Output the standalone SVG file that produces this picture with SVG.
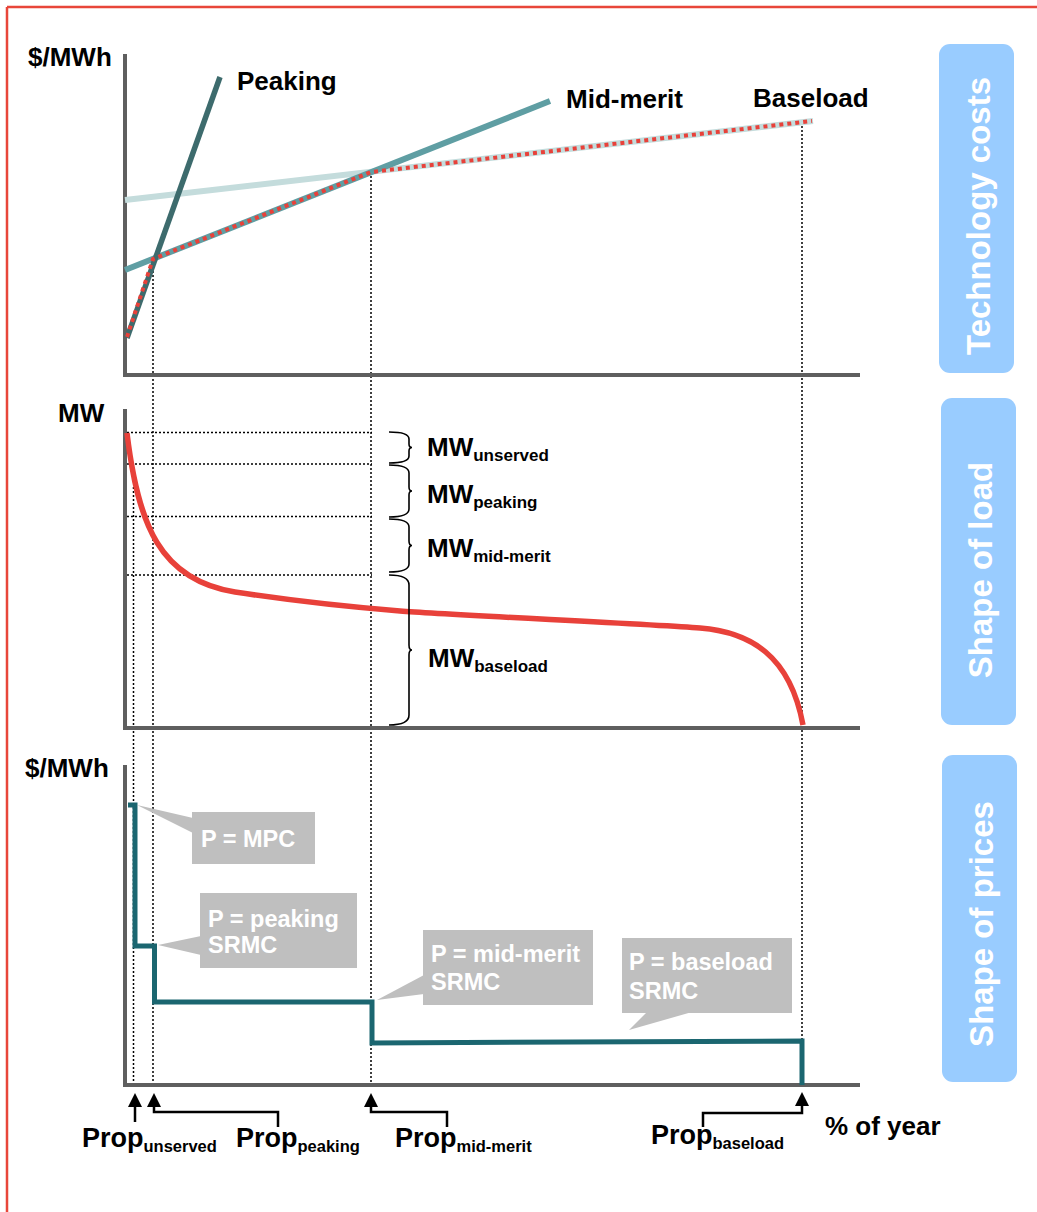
<svg xmlns="http://www.w3.org/2000/svg" width="1037" height="1212" viewBox="0 0 1037 1212">
<style>
.t{font-family:"Liberation Sans",Arial,Helvetica,sans-serif;font-weight:bold;font-size:26px;fill:#000}
.p{font-size:27px}
.s16{font-size:16.5px}
.s17{font-size:17px}
.call{font-family:"Liberation Sans",Arial,Helvetica,sans-serif;font-weight:bold;font-size:23.5px;fill:#fff}
.side{font-family:"Liberation Sans",Arial,Helvetica,sans-serif;font-weight:bold;font-size:33px;fill:#fff}
.axis{fill:none;stroke:#5f5f5f;stroke-width:4}
.dot{fill:none;stroke:#000;stroke-width:1.5;stroke-dasharray:2,2}
.brace{fill:none;stroke:#000;stroke-width:1.6}
.conn{fill:none;stroke:#000;stroke-width:2.5}
.bubble{fill:#bfbfbf}
.sidebox{fill:#99ccff}
</style>
<defs>
<marker id="ah" markerUnits="userSpaceOnUse" markerWidth="14" markerHeight="14" viewBox="0 0 14 14" refX="7" refY="7" orient="auto">
<path d="M0,0 L14,7 L0,14 z" fill="#000"/>
</marker>
</defs>

<g id="frame">
<line x1="7" y1="7" x2="1037" y2="7" stroke="#e8463a" stroke-width="2.5"/>
<line x1="7" y1="7" x2="7" y2="1212" stroke="#e8463a" stroke-width="2.5"/>
</g>

<g id="guides">
<path class="dot" d="M153,259 V1085"/>
<path class="dot" d="M371,172 V1085"/>
<path class="dot" d="M802,122 V1041"/>
<path class="dot" d="M133.5,487 V1085"/>
<path class="dot" d="M127,432.5 H372"/>
<path class="dot" d="M127,464 H372"/>
<path class="dot" d="M127,516.5 H372"/>
<path class="dot" d="M127,575 H372"/>
</g>

<g id="chart-technology-costs">
<path class="axis" d="M125,54 V375 H860"/>
<line x1="125" y1="200" x2="813" y2="121" stroke="#c4dcdc" stroke-width="6"/>
<line x1="125" y1="270" x2="550" y2="101" stroke="#5f9ea3" stroke-width="6"/>
<line x1="127" y1="338" x2="220" y2="77" stroke="#3d6b6d" stroke-width="5.5"/>
<path d="M127,337 L153,259 L371,172 L812,121" fill="none" stroke="#e8413a" stroke-width="4" stroke-dasharray="4,4"/>
<text class="t" x="28" y="66">$/MWh</text>
<text class="t" x="237" y="90">Peaking</text>
<text class="t" x="566" y="108">Mid-merit</text>
<text class="t" x="753" y="107">Baseload</text>
</g>

<g id="chart-shape-of-load">
<path class="axis" d="M125,409 V728 H860"/>
<path d="M127,433 C138,525 160,580 235,592 C300,602 350,607 400,611 C450,615 650,624 700,628 C750,632 790,655 803,725" fill="none" stroke="#e8413a" stroke-width="5.5"/>
<text class="t" x="58" y="422">MW</text>
</g>

<g id="braces">
<path class="brace" d="M389,432 Q409,432 409,439 L409,444 Q409,447.5 412,447.5 Q409,447.5 409,451 L409,456 Q409,463 389,463"/>
<path class="brace" d="M389,465 Q409,465 409,473 L409,487 Q409,491 412,491 Q409,491 409,495 L409,509 Q409,517 389,517"/>
<path class="brace" d="M389,519 Q409,519 409,527 L409,541 Q409,545.5 412,545.5 Q409,545.5 409,550 L409,564 Q409,572 389,572"/>
<path class="brace" d="M389,575 Q409,575 409,585 L409,645 Q409,650 412,650 Q409,650 409,655 L409,715 Q409,725 389,725"/>
</g>

<g id="mw-labels">
<text class="t" x="427" y="456">MW<tspan class="s17" dy="5">unserved</tspan></text>
<text class="t" x="427" y="503">MW<tspan class="s17" dy="5">peaking</tspan></text>
<text class="t" x="427" y="557">MW<tspan class="s17" dy="5">mid-merit</tspan></text>
<text class="t" x="428" y="667">MW<tspan class="s17" dy="5">baseload</tspan></text>
</g>

<g id="chart-shape-of-prices">
<path class="axis" d="M125,765 V1085 H860"/>
<path d="M128,805 H135 V946 H154.5 V1002 H372 V1043 L802,1041 V1085" fill="none" stroke="#1b6670" stroke-width="5" stroke-linejoin="miter"/>
<text class="t" x="25" y="777">$/MWh</text>
</g>

<g id="callout-mpc">
<polygon class="bubble" points="137,805 193,818 193,833"/>
<rect class="bubble" x="192" y="812" width="123" height="52"/>
<text class="call" x="201" y="847">P = MPC</text>
</g>

<g id="callout-peaking">
<polygon class="bubble" points="158,945 201,936 201,955"/>
<rect class="bubble" x="200" y="893" width="157" height="75"/>
<text class="call" x="208" y="927">P = peaking</text>
<text class="call" x="208" y="953">SRMC</text>
</g>

<g id="callout-midmerit">
<polygon class="bubble" points="377,1000 424,975 424,994"/>
<rect class="bubble" x="423" y="930" width="170" height="75"/>
<text class="call" x="431" y="962">P = mid-merit</text>
<text class="call" x="431" y="990">SRMC</text>
</g>

<g id="callout-baseload">
<polygon class="bubble" points="647,1012 692,1012 629,1030"/>
<rect class="bubble" x="622" y="938" width="170" height="75"/>
<text class="call" x="629" y="970">P = baseload</text>
<text class="call" x="629" y="999">SRMC</text>
</g>

<g id="connectors">
<path class="conn" d="M135,1122 V1100" marker-end="url(#ah)"/>
<path class="conn" d="M278,1127 V1112 H154 V1100" marker-end="url(#ah)"/>
<path class="conn" d="M447,1127 V1112 H371 V1100" marker-end="url(#ah)"/>
<path class="conn" d="M703,1127 V1113 H802 V1099" marker-end="url(#ah)"/>
</g>

<g id="prop-labels">
<text class="t p" x="82" y="1147">Prop<tspan class="s16" dy="5">unserved</tspan></text>
<text class="t p" x="236" y="1147">Prop<tspan class="s16" dy="5">peaking</tspan></text>
<text class="t p" x="395" y="1147">Prop<tspan class="s16" dy="5">mid-merit</tspan></text>
<text class="t p" x="651" y="1144">Prop<tspan class="s16" dy="5">baseload</tspan></text>
<text class="t" x="825" y="1135">% of year</text>
</g>

<g id="side-technology-costs">
<rect class="sidebox" x="939" y="44" width="75" height="329" rx="11"/>
<text class="side" transform="translate(990,216) rotate(-90)" text-anchor="middle">Technology costs</text>
</g>
<g id="side-shape-of-load">
<rect class="sidebox" x="941" y="398" width="75" height="327" rx="11"/>
<text class="side" transform="translate(992,570) rotate(-90)" text-anchor="middle">Shape of load</text>
</g>
<g id="side-shape-of-prices">
<rect class="sidebox" x="942" y="755" width="75" height="327" rx="11"/>
<text class="side" transform="translate(993,924) rotate(-90)" text-anchor="middle">Shape of prices</text>
</g>
</svg>
